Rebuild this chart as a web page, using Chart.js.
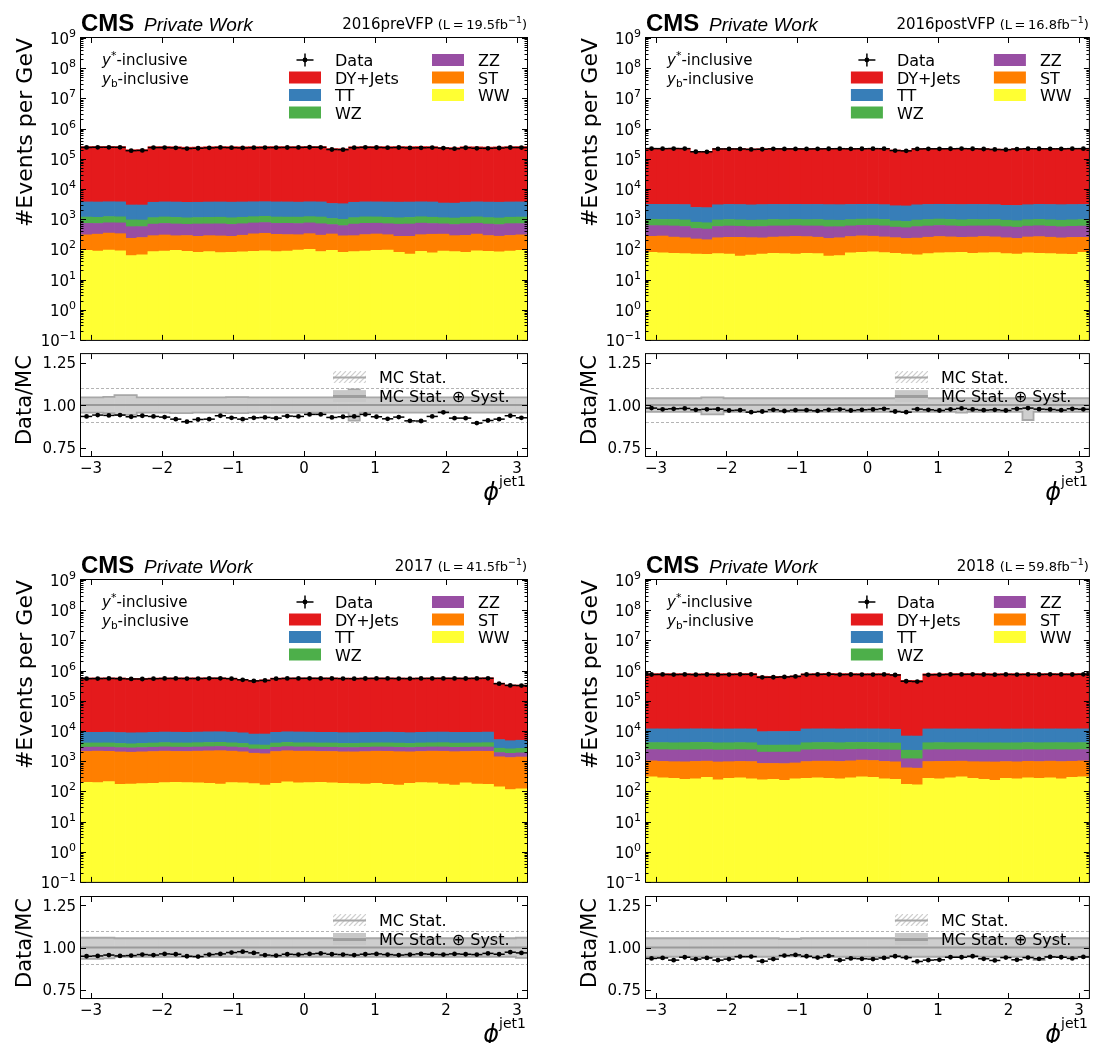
<!DOCTYPE html>
<html><head><meta charset="utf-8">
<script src="https://cdn.jsdelivr.net/npm/chart.js@4.4.1/dist/chart.umd.min.js"></script>
<style>
html,body{margin:0;padding:0;background:#fff;}
#wrap{position:relative;width:1096px;height:1043px;overflow:hidden;background:#fff;}
canvas{position:absolute;}
</style></head><body><div id="wrap"></div>
<script>
// ---------------- binning & axis ticks ----------------
const nBins = 40;
const phiMin = -Math.PI, phiMax = Math.PI;
const xTickValues = [-3, -2, -1, 0, 1, 2, 3];
const xTickLabels = ['\u22123', '\u22122', '\u22121', '0', '1', '2', '3'];
const yExponents = [-1, 0, 1, 2, 3, 4, 5, 6, 7, 8, 9];
const ratioTickValues = [0.75, 1.0, 1.25];
const ratioTickLabels = ['0.75', '1.00', '1.25'];
const ratioDashed = [0.9, 1.1];
const ratioRef = 1.0;
const years = ['2016preVFP', '2016postVFP', '2017', '2018'];
const lumis = ['19.5', '16.8', '41.5', '59.8'];
const processes = ['DY+Jets', 'TT', 'WZ', 'ZZ', 'ST', 'WW'];
const processColors = ['#e41a1c', '#377eb8', '#4daf4a', '#984ea3', '#ff7f00', '#ffff33'];

// ---------------- 2016preVFP ----------------
const ww_16pre = [92,88,95,90,62,66,84,88,92,86,80,84,78,80,83,86,90,84,88,95,100,85,92,80,84,88,92,95,80,70,86,76,88,84,80,90,86,82,88,92];
const st_16pre = [210,230,250,240,170,180,200,210,190,200,190,200,200,190,210,240,250,230,220,210,230,210,230,200,200,220,230,210,190,200,220,240,230,200,210,230,200,190,200,210];
const zz_16pre = [420,400,410,420,330,320,400,420,410,390,420,410,420,400,410,420,430,410,420,410,420,410,340,330,400,420,410,400,410,420,430,400,380,380,420,410,400,390,420,410];
const wz_16pre = [450,430,460,440,380,370,440,460,450,430,440,450,460,440,450,460,470,450,440,450,460,470,390,380,440,460,450,440,430,450,460,440,420,420,450,460,440,430,450,460];
const tt_16pre = [2550,2550,2550,2550,2000,2000,2500,2550,2550,2500,2500,2550,2550,2550,2550,2550,2550,2550,2550,2500,2550,2550,2250,2250,2500,2550,2550,2550,2550,2550,2550,2550,2300,2300,2500,2550,2550,2550,2550,2550];
const dy_16pre = [250000,251000,252000,250000,196000,198000,248000,249000,247000,238000,240000,247000,249000,248000,246000,248000,249000,250000,249000,250000,251000,250000,215000,212000,246000,249000,250000,249000,250000,249000,251000,248000,232000,230000,247000,245000,240000,244000,248000,250000];
const data_16pre = [236700,239700,240100,238700,185500,188500,234700,234800,229900,217900,222900,229900,236800,232800,229000,232800,234300,234200,236300,236600,240700,239700,202500,200400,232900,238700,236200,232200,235700,229200,230800,234800,225300,215300,231300,222300,221400,227000,235800,234700];
const ratio_16pre = [0.933,0.941,0.939,0.941,0.931,0.937,0.933,0.929,0.917,0.902,0.915,0.917,0.937,0.925,0.917,0.925,0.927,0.923,0.935,0.933,0.945,0.945,0.927,0.931,0.933,0.945,0.931,0.919,0.929,0.907,0.906,0.933,0.957,0.923,0.923,0.894,0.909,0.917,0.937,0.925];
const bandHi_16pre = [1.045,1.045,1.048,1.058,1.058,1.045,1.045,1.045,1.045,1.045,1.045,1.045,1.045,1.047,1.047,1.045,1.045,1.045,1.045,1.045,1.045,1.045,1.045,1.045,1.092,1.045,1.045,1.045,1.045,1.045,1.045,1.045,1.045,1.045,1.045,1.045,1.045,1.045,1.045,1.045];
const bandLo_16pre = [0.955,0.955,0.952,0.942,0.942,0.955,0.955,0.955,0.952,0.952,0.955,0.955,0.955,0.953,0.953,0.955,0.955,0.955,0.955,0.955,0.955,0.955,0.955,0.955,0.908,0.955,0.955,0.955,0.955,0.955,0.955,0.955,0.955,0.955,0.955,0.955,0.955,0.955,0.955,0.955];

// ---------------- 2016postVFP ----------------
const ww_16post = [80,76,74,72,70,68,72,70,60,64,70,74,72,70,74,72,60,62,76,80,82,78,74,70,66,72,76,78,80,74,76,78,72,70,76,74,72,70,68,80];
const st_16post = [190,200,180,170,150,140,170,180,190,180,170,180,190,200,190,180,170,180,190,200,190,180,170,160,170,180,190,180,170,180,190,180,170,160,180,190,180,170,180,170];
const zz_16post = [340,330,340,330,270,260,330,340,330,320,330,340,330,340,330,340,330,320,330,340,350,340,300,290,330,340,350,340,330,340,330,340,320,310,330,340,330,320,330,340];
const wz_16post = [380,370,380,370,300,290,370,380,370,360,370,380,370,380,370,380,370,360,370,380,390,380,330,320,370,380,390,380,370,380,370,380,360,350,370,380,370,360,370,380];
const tt_16post = [2100,2100,2100,2100,1650,1650,2050,2100,2100,2050,2100,2100,2100,2100,2100,2100,2100,2100,2100,2100,2100,2050,1900,1900,2050,2100,2100,2100,2100,2100,2100,2050,1950,1950,2050,2100,2100,2100,2100,2100];
const dy_16post = [218000,219000,220000,218000,173000,172000,214000,216000,215000,210000,212000,216000,217000,216000,215000,217000,218000,218000,217000,218000,219000,217000,192000,188000,214000,217000,218000,217000,218000,217000,214000,206000,204000,212000,216000,217000,216000,217000,218000,219000];
const data_16post = [217100,216500,218200,216700,170600,170100,211800,212100,211600,204100,206900,213000,212400,212500,211600,212600,214900,215600,213100,214900,216300,215200,187300,182600,211800,213900,214000,214600,216700,214400,210600,203200,200200,210100,215100,214800,213400,213500,216200,216500];
const ratio_16post = [0.982,0.975,0.978,0.980,0.972,0.975,0.976,0.968,0.970,0.958,0.962,0.972,0.965,0.970,0.970,0.966,0.972,0.975,0.968,0.972,0.974,0.978,0.962,0.958,0.976,0.972,0.968,0.975,0.980,0.974,0.970,0.972,0.968,0.978,0.982,0.976,0.974,0.970,0.978,0.975];
const bandHi_16post = [1.04,1.04,1.04,1.04,1.04,1.045,1.045,1.04,1.04,1.04,1.04,1.04,1.04,1.04,1.04,1.04,1.04,1.04,1.04,1.04,1.04,1.04,1.04,1.04,1.04,1.04,1.04,1.04,1.04,1.04,1.04,1.04,1.04,1.04,1.04,1.04,1.04,1.04,1.04,1.04];
const bandLo_16post = [0.96,0.96,0.96,0.96,0.96,0.945,0.945,0.96,0.96,0.96,0.96,0.96,0.96,0.96,0.96,0.96,0.96,0.96,0.96,0.96,0.96,0.96,0.96,0.96,0.96,0.96,0.96,0.96,0.955,0.96,0.96,0.96,0.96,0.96,0.912,0.96,0.96,0.96,0.96,0.96];

// ---------------- 2017 ----------------
const ww_17 = [200,195,210,170,175,180,185,195,200,195,190,185,175,195,190,180,160,185,205,190,195,200,190,185,180,175,185,170,160,185,195,190,175,160,190,175,170,140,115,120];
const st_17 = [1900,1950,1900,1850,1800,1850,1900,1950,1900,1900,1950,2000,2050,1950,1850,1650,1600,1900,2000,1950,1950,1900,1900,1850,1850,1900,1950,1950,1900,1850,1900,1950,1950,1900,1900,1950,1950,1250,1200,1250];
const zz_17 = [800,780,800,790,780,790,800,820,810,800,800,820,830,800,780,700,700,800,820,810,810,800,800,790,790,800,810,810,800,790,800,810,820,800,800,810,820,530,500,510];
const wz_17 = [1100,1080,1100,1050,1000,1050,1100,1150,1100,1100,1150,1150,1150,1100,1050,950,950,1100,1150,1100,1100,1100,1100,1050,1050,1100,1100,1100,1100,1050,1100,1100,1150,1100,1100,1100,1150,760,740,760];
const tt_17 = [5000,5000,5100,5000,4900,4900,5000,5100,5100,5000,5100,5200,5200,5100,4800,4400,4500,5000,5200,5200,5100,5000,5000,4900,4900,5000,5000,5100,5000,4900,5000,5100,5100,5000,5000,5000,5100,2500,2200,2300];
const dy_17 = [560000,562000,565000,560000,545000,540000,555000,560000,562000,565000,566000,568000,566000,548000,500000,462000,485000,555000,562000,565000,565000,562000,563000,556000,555000,560000,562000,563000,560000,556000,560000,563000,565000,562000,560000,565000,566000,378000,328000,325000];
const data_17 = [539400,542500,548200,540600,527400,525900,538600,547400,548200,544200,544000,552800,553200,540300,495300,455000,470800,536900,548200,549900,552200,551000,549100,541300,538600,546200,549300,548000,543400,541300,547400,549100,549900,549300,546200,549900,554900,367700,323200,318900];
const ratio_17 = [0.948,0.950,0.955,0.950,0.952,0.958,0.955,0.962,0.960,0.948,0.946,0.958,0.962,0.970,0.975,0.968,0.955,0.952,0.960,0.958,0.962,0.965,0.960,0.958,0.955,0.960,0.962,0.958,0.955,0.958,0.962,0.960,0.958,0.962,0.960,0.958,0.965,0.960,0.972,0.968];
const bandHi_17 = [1.058,1.058,1.058,1.055,1.055,1.055,1.055,1.055,1.055,1.055,1.055,1.055,1.055,1.055,1.055,1.055,1.055,1.055,1.055,1.055,1.055,1.055,1.055,1.055,1.055,1.055,1.055,1.055,1.055,1.055,1.055,1.055,1.055,1.055,1.055,1.055,1.055,1.055,1.055,1.058];
const bandLo_17 = [0.932,0.932,0.935,0.945,0.945,0.945,0.945,0.945,0.945,0.945,0.945,0.945,0.945,0.945,0.942,0.942,0.945,0.945,0.945,0.945,0.945,0.945,0.945,0.945,0.945,0.945,0.945,0.945,0.945,0.945,0.945,0.945,0.945,0.945,0.945,0.945,0.945,0.945,0.945,0.938];

// ---------------- 2018 ----------------
const ww_18 = [300,280,270,250,260,290,240,270,280,260,240,250,230,260,270,280,270,260,280,300,290,260,250,170,165,270,260,280,300,270,250,230,270,260,280,270,280,260,290,300];
const st_18 = [720,700,690,700,720,710,700,690,700,710,600,590,600,610,700,720,730,720,740,780,760,720,700,430,420,700,720,710,700,690,700,710,700,690,710,700,720,710,700,720];
const zz_18 = [1400,1420,1400,1380,1400,1420,1400,1400,1420,1400,1150,1150,1160,1150,1400,1420,1400,1400,1420,1400,1400,1400,1380,600,610,1400,1420,1400,1400,1420,1400,1400,1380,1400,1420,1400,1400,1420,1400,1400];
const wz_18 = [1700,1720,1700,1750,1800,1750,1700,1700,1720,1700,1400,1400,1420,1400,1700,1720,1750,1700,1720,1700,1700,1700,1650,1100,1080,1700,1720,1700,1700,1720,1700,1700,1680,1700,1720,1700,1700,1720,1700,1700];
const tt_18 = [7600,7600,7600,7600,7600,7600,7600,7600,7600,7600,6100,6200,6200,6300,7600,7600,7600,7600,7600,7600,7600,7600,7400,4500,4500,7600,7600,7600,7600,7600,7600,7600,7600,7600,7600,7600,7600,7600,7600,7600];
const dy_18 = [780000,780000,782000,780000,775000,778000,780000,782000,780000,782000,640000,635000,638000,660000,770000,782000,784000,784000,782000,780000,782000,780000,740000,465000,465000,770000,776000,780000,782000,780000,782000,780000,780000,782000,780000,782000,784000,780000,782000,784000];
const data_18 = [740200,742600,734200,745800,732400,740700,732300,738900,748900,750800,596900,600000,616400,640000,741000,746100,755900,736000,742100,738700,738900,742600,712400,443500,432600,723100,730200,745800,747700,750500,740500,730700,744200,735800,744200,740500,751100,745800,742100,751100];
const ratio_18 = [0.935,0.938,0.925,0.942,0.931,0.938,0.925,0.931,0.946,0.946,0.919,0.931,0.952,0.956,0.948,0.940,0.950,0.925,0.935,0.933,0.931,0.938,0.948,0.940,0.917,0.925,0.927,0.942,0.942,0.948,0.933,0.923,0.940,0.927,0.940,0.933,0.944,0.942,0.935,0.944];
const bandHi_18 = [1.055,1.055,1.055,1.055,1.055,1.055,1.055,1.055,1.055,1.055,1.055,1.055,1.052,1.052,1.055,1.055,1.055,1.055,1.055,1.055,1.055,1.055,1.055,1.055,1.055,1.055,1.055,1.055,1.055,1.055,1.055,1.055,1.055,1.055,1.055,1.055,1.055,1.055,1.055,1.055];
const bandLo_18 = [0.945,0.945,0.945,0.945,0.945,0.945,0.945,0.945,0.945,0.945,0.945,0.945,0.948,0.948,0.945,0.945,0.945,0.945,0.945,0.945,0.945,0.945,0.945,0.945,0.945,0.945,0.945,0.945,0.945,0.945,0.945,0.945,0.945,0.945,0.945,0.925,0.945,0.945,0.945,0.945];

// ---------------- assemble ----------------
const mcByYear = [
  [dy_16pre, tt_16pre, wz_16pre, zz_16pre, st_16pre, ww_16pre],
  [dy_16post, tt_16post, wz_16post, zz_16post, st_16post, ww_16post],
  [dy_17, tt_17, wz_17, zz_17, st_17, ww_17],
  [dy_18, tt_18, wz_18, zz_18, st_18, ww_18]
];
const dataByYear = [data_16pre, data_16post, data_17, data_18];
const ratioByYear = [ratio_16pre, ratio_16post, ratio_17, ratio_18];
const bandHiByYear = [bandHi_16pre, bandHi_16post, bandHi_17, bandHi_18];
const bandLoByYear = [bandLo_16pre, bandLo_16post, bandLo_17, bandLo_18];

const binW = (phiMax - phiMin) / nBins;
const binCenters = Array.from({length: nBins}, (_, i) => phiMin + (i + 0.5) * binW);
const binEdges = Array.from({length: nBins + 1}, (_, i) => phiMin + i * binW);

const F = '"DejaVu Sans", "Noto Sans", sans-serif';
const FH = '"Liberation Sans", Arial, sans-serif';

const geoms = [
  {main:{x:0,y:0,w:560,h:347}, ratio:{x:0,y:347,w:560,h:193}, l:81, r:527, mt:38, mb:340, rt:354, rb:456},
  {main:{x:560,y:0,w:536,h:347}, ratio:{x:560,y:347,w:536,h:193}, l:646, r:1090, mt:38, mb:340, rt:354, rb:456},
  {main:{x:0,y:540,w:560,h:349}, ratio:{x:0,y:889,w:560,h:154}, l:81, r:527, mt:580, mb:882, rt:897, rb:998},
  {main:{x:560,y:540,w:536,h:349}, ratio:{x:560,y:889,w:536,h:154}, l:646, r:1090, mt:580, mb:882, rt:897, rb:998}
];

const wrap = document.getElementById('wrap');
function makeCanvas(c) {
  const cv = document.createElement('canvas');
  cv.width = c.w; cv.height = c.h;
  cv.style.left = c.x + 'px'; cv.style.top = c.y + 'px';
  cv.style.width = c.w + 'px'; cv.style.height = c.h + 'px';
  wrap.appendChild(cv);
  return cv;
}

function drawRuns(ctx, parts, x, y, align) {
  let total = 0;
  parts.forEach(p => { ctx.font = p.font; p.w = ctx.measureText(p.t).width; total += p.w; });
  let cx = align === 'right' ? x - total : (align === 'center' ? x - total / 2 : x);
  ctx.textAlign = 'left'; ctx.textBaseline = 'alphabetic';
  parts.forEach(p => { ctx.font = p.font; ctx.fillText(p.t, cx, y + (p.dy || 0)); cx += p.w; });
}

function drawFrame(ctx, a) {
  ctx.strokeStyle = '#000'; ctx.lineWidth = 1;
  ctx.strokeRect(a.left - 0.5, a.top - 0.5, a.right - a.left + 1, a.bottom - a.top + 1);
}
function drawXTicks(ctx, a, xs) {
  ctx.beginPath();
  xTickValues.forEach(v => {
    const px = Math.round(xs.getPixelForValue(v)) + 0.5;
    ctx.moveTo(px, a.bottom); ctx.lineTo(px, a.bottom - 5);
    ctx.moveTo(px, a.top); ctx.lineTo(px, a.top + 5);
  });
  ctx.stroke();
}
function drawYTick(ctx, a, py, len) {
  py = Math.round(py) + 0.5;
  ctx.moveTo(a.left, py); ctx.lineTo(a.left + len, py);
  ctx.moveTo(a.right, py); ctx.lineTo(a.right - len, py);
}

function mainPlugin(idx) {
  return {
    id: 'decorMain' + idx,
    afterDraw(chart) {
      const ctx = chart.ctx, a = chart.chartArea, xs = chart.scales.x, ys = chart.scales.y;
      ctx.save();
      drawFrame(ctx, a);
      drawXTicks(ctx, a, xs);
      ctx.beginPath();
      yExponents.forEach((e, k) => {
        drawYTick(ctx, a, ys.getPixelForValue(Math.pow(10, e)), 5);
        if (k < yExponents.length - 1) {
          for (let m = 2; m <= 9; m++) drawYTick(ctx, a, ys.getPixelForValue(m * Math.pow(10, e)), 2.5);
        }
      });
      ctx.stroke();
      ctx.fillStyle = '#000';
      yExponents.forEach(e => {
        const py = ys.getPixelForValue(Math.pow(10, e));
        const sup = e < 0 ? '\u2212' + (-e) : String(e);
        drawRuns(ctx, [{t:'10', font:'15px ' + F}, {t:sup, font:'11px ' + F, dy:-7}], a.left - 5, py + 6, 'right');
      });
      // header
      drawRuns(ctx, [{t:'CMS', font:'bold 24px ' + FH}], a.left, a.top - 7.5, 'left');
      drawRuns(ctx, [{t:'Private Work', font:'italic 19px ' + FH}], a.left + 63, a.top - 7.5, 'left');
      drawRuns(ctx, [
        {t: years[idx] + ' ', font:'15px ' + F},
        {t:'(L\u2009=\u2009' + lumis[idx] + 'fb', font:'13px ' + F},
        {t:'\u22121', font:'9.5px ' + F, dy:-6},
        {t:')', font:'13px ' + F}
      ], a.right, a.top - 9, 'right');
      // selection text
      drawRuns(ctx, [{t:'y', font:'italic 15px ' + F}, {t:'*', font:'11px ' + F, dy:-6}, {t:'-inclusive', font:'15px ' + F}], a.left + 21, a.top + 27, 'left');
      drawRuns(ctx, [{t:'y', font:'italic 15px ' + F}, {t:'b', font:'10.5px ' + F, dy:3}, {t:'-inclusive', font:'15px ' + F}], a.left + 21, a.top + 46, 'left');
      // legend
      const rows = [22, 39.5, 57, 74.5].map(v => a.top + v);
      const c1 = a.right - 238, c2 = a.right - 95;
      ctx.strokeStyle = '#000'; ctx.lineWidth = 1.5;
      ctx.beginPath();
      ctx.moveTo(c1 + 16, rows[0] - 6.5); ctx.lineTo(c1 + 16, rows[0] + 6.5);
      ctx.moveTo(c1 + 7.5, rows[0]); ctx.lineTo(c1 + 24.5, rows[0]);
      ctx.stroke();
      ctx.beginPath(); ctx.arc(c1 + 16, rows[0], 2.4, 0, Math.PI * 2); ctx.fill();
      drawRuns(ctx, [{t:'Data', font:'16px ' + F}], c1 + 46, rows[0] + 6, 'left');
      const col1 = [0, 1, 2], col2 = [3, 4, 5];
      col1.forEach((pi, k) => {
        ctx.fillStyle = processColors[pi]; ctx.fillRect(c1, rows[k + 1] - 6, 32, 12);
        ctx.fillStyle = '#000'; drawRuns(ctx, [{t:processes[pi], font:'16px ' + F}], c1 + 46, rows[k + 1] + 6, 'left');
      });
      col2.forEach((pi, k) => {
        ctx.fillStyle = processColors[pi]; ctx.fillRect(c2, rows[k] - 6, 32, 12);
        ctx.fillStyle = '#000'; drawRuns(ctx, [{t:processes[pi], font:'16px ' + F}], c2 + 46, rows[k] + 6, 'left');
      });
      // y label
      ctx.save();
      ctx.translate(a.left - 55, a.top);
      ctx.rotate(-Math.PI / 2);
      ctx.textAlign = 'right'; ctx.textBaseline = 'middle';
      ctx.font = '22px ' + F; ctx.fillStyle = '#000';
      ctx.fillText('#Events per GeV', 0, 0);
      ctx.restore();
      ctx.restore();
    }
  };
}

function ratioPlugin(idx) {
  return {
    id: 'decorRatio' + idx,
    beforeDatasetsDraw(chart) {
      const ctx = chart.ctx, a = chart.chartArea, ys = chart.scales.y;
      ctx.save();
      ctx.strokeStyle = '#b4b4b4'; ctx.lineWidth = 1; ctx.setLineDash([3, 2]);
      ratioDashed.forEach(v => {
        const py = Math.round(ys.getPixelForValue(v)) + 0.5;
        ctx.beginPath(); ctx.moveTo(a.left, py); ctx.lineTo(a.right, py); ctx.stroke();
      });
      ctx.restore();
    },
    afterDraw(chart) {
      const ctx = chart.ctx, a = chart.chartArea, xs = chart.scales.x, ys = chart.scales.y;
      ctx.save();
      drawFrame(ctx, a);
      drawXTicks(ctx, a, xs);
      ctx.beginPath();
      ratioTickValues.forEach(v => drawYTick(ctx, a, ys.getPixelForValue(v), 5));
      ctx.stroke();
      ctx.fillStyle = '#000';
      ratioTickValues.forEach((v, k) => {
        drawRuns(ctx, [{t:ratioTickLabels[k], font:'15px ' + F}], a.left - 5, ys.getPixelForValue(v) + 5.5, 'right');
      });
      xTickValues.forEach((v, k) => {
        drawRuns(ctx, [{t:xTickLabels[k], font:'15px ' + F}], xs.getPixelForValue(v), a.bottom + 17, 'center');
      });
      // x label
      ctx.font = '14px ' + F;
      const wj = ctx.measureText('jet1').width;
      drawRuns(ctx, [{t:'jet1', font:'14px ' + F}], a.right - 1, a.bottom + 30, 'right');
      drawRuns(ctx, [{t:'\u03d5', font:'italic 24px ' + F}], a.right - 1 - wj, a.bottom + 44, 'right');
      // y label
      ctx.save();
      ctx.translate(a.left - 55, a.top + 1);
      ctx.rotate(-Math.PI / 2);
      ctx.textAlign = 'right'; ctx.textBaseline = 'middle';
      ctx.font = '21px ' + F; ctx.fillStyle = '#000';
      ctx.fillText('Data/MC', 0, 0);
      ctx.restore();
      // legend
      const r1 = a.top + 23, r2 = a.top + 42;
      const hx = a.right - 194, hw = 33;
      ctx.save();
      ctx.beginPath(); ctx.rect(hx, r1 - 6, hw, 12); ctx.clip();
      ctx.strokeStyle = '#cfcfcf'; ctx.lineWidth = 1.2;
      ctx.beginPath();
      for (let k = -14; k < hw + 14; k += 5) { ctx.moveTo(hx + k, r1 + 6); ctx.lineTo(hx + k + 12, r1 - 6); }
      ctx.stroke();
      ctx.restore();
      ctx.strokeStyle = '#a9a9a9'; ctx.lineWidth = 2;
      ctx.beginPath(); ctx.moveTo(hx, r1 + 0.5); ctx.lineTo(hx + hw, r1 + 0.5); ctx.stroke();
      ctx.fillStyle = '#c8c8c8'; ctx.fillRect(hx, r2 - 6, hw, 12);
      ctx.strokeStyle = '#9d9d9d'; ctx.lineWidth = 3;
      ctx.beginPath(); ctx.moveTo(hx, r2 + 0.5); ctx.lineTo(hx + hw, r2 + 0.5); ctx.stroke();
      ctx.fillStyle = '#000';
      drawRuns(ctx, [{t:'MC Stat.', font:'16px ' + F}], a.right - 148, r1 + 6, 'left');
      drawRuns(ctx, [{t:'MC Stat. \u2295 Syst.', font:'16px ' + F}], a.right - 148, r2 + 6, 'left');
      ctx.restore();
    }
  };
}

function xScale() {
  return {type:'linear', min:phiMin, max:phiMax, display:false, offset:false, stacked:true,
    afterBuildTicks: s => { s.ticks = xTickValues.map(v => ({value: v})); }};
}
function pad(c, g, top, bottom) {
  return {left: g.l - c.x, right: c.x + c.w - g.r, top: top - c.y, bottom: c.y + c.h - bottom};
}

const halfBinPx = 5.6;

geoms.forEach((g, idx) => {
  // ---------- main panel ----------
  const cvMain = makeCanvas(g.main);
  const stackOrder = [5, 4, 3, 2, 1, 0]; // WW at bottom ... DY on top
  const mainSets = [
    {type:'line', label:'Data', data: binCenters.map((x, i) => ({x, y: dataByYear[idx][i]})), showLine:false,
     pointStyle:'line', pointRadius:halfBinPx, pointBorderWidth:1.5, pointBorderColor:'#000', borderColor:'#000', stack:'dataBar', order:0},
    {type:'line', label:'DataDot', data: binCenters.map((x, i) => ({x, y: dataByYear[idx][i]})), showLine:false,
     pointStyle:'circle', pointRadius:2.4, pointBorderWidth:0, pointBackgroundColor:'#000', stack:'dataDot', order:0}
  ];
  stackOrder.forEach(pi => {
    mainSets.push({type:'bar', label:processes[pi], data: binCenters.map((x, i) => ({x, y: mcByYear[idx][pi][i]})),
      backgroundColor: processColors[pi], borderWidth:0, barPercentage:1, categoryPercentage:1, order:1});
  });
  new Chart(cvMain, {
    type:'bar',
    data:{datasets: mainSets},
    options:{
      responsive:false, animation:false, devicePixelRatio:1, events:[],
      layout:{padding: pad(g.main, g, g.mt, g.mb)},
      plugins:{legend:{display:false}, tooltip:{enabled:false}},
      scales:{x: xScale(), y:{type:'logarithmic', min:0.1, max:1e9, display:false, stacked:true}}
    },
    plugins:[mainPlugin(idx)]
  });

  // ---------- ratio panel ----------
  const cvRatio = makeCanvas(g.ratio);
  const hi = bandHiByYear[idx], lo = bandLoByYear[idx];
  const ratioSets = [
    {type:'line', label:'RatioBar', data: binCenters.map((x, i) => ({x, y: ratioByYear[idx][i]})), showLine:false,
     pointStyle:'line', pointRadius:halfBinPx, pointBorderWidth:1.5, pointBorderColor:'#000', borderColor:'#000', order:0},
    {type:'line', label:'RatioDot', data: binCenters.map((x, i) => ({x, y: ratioByYear[idx][i]})), showLine:false,
     pointStyle:'circle', pointRadius:2.4, pointBorderWidth:0, pointBackgroundColor:'#000', order:0},
    {type:'line', label:'ref', data:[{x:phiMin, y:ratioRef}, {x:phiMax, y:ratioRef}], borderColor:'#9a9a9a', borderWidth:2, pointRadius:0, order:1},
    {type:'line', label:'hiEdge', data: binEdges.map((x, i) => ({x, y: hi[Math.min(i, nBins - 1)]})), stepped:'before',
     borderColor:'#a8a8a8', borderWidth:1.8, pointRadius:0, fill:false, order:1},
    {type:'line', label:'loEdge', data: binEdges.map((x, i) => ({x, y: lo[Math.min(i, nBins - 1)]})), stepped:'before',
     borderColor:'#a8a8a8', borderWidth:1.8, pointRadius:0, fill:false, order:1},
    {type:'bar', label:'band', data: binCenters.map((x, i) => ({x, y:[lo[i], hi[i]]})),
     backgroundColor:'#cecece', borderWidth:0, barPercentage:1, categoryPercentage:1, order:2}
  ];
  new Chart(cvRatio, {
    type:'bar',
    data:{datasets: ratioSets},
    options:{
      responsive:false, animation:false, devicePixelRatio:1, events:[],
      layout:{padding: pad(g.ratio, g, g.rt, g.rb)},
      plugins:{legend:{display:false}, tooltip:{enabled:false}},
      scales:{x: Object.assign(xScale(), {stacked:false}), y:{type:'linear', min:0.7, max:1.3, display:false}}
    },
    plugins:[ratioPlugin(idx)]
  });
});
</script></body></html>
